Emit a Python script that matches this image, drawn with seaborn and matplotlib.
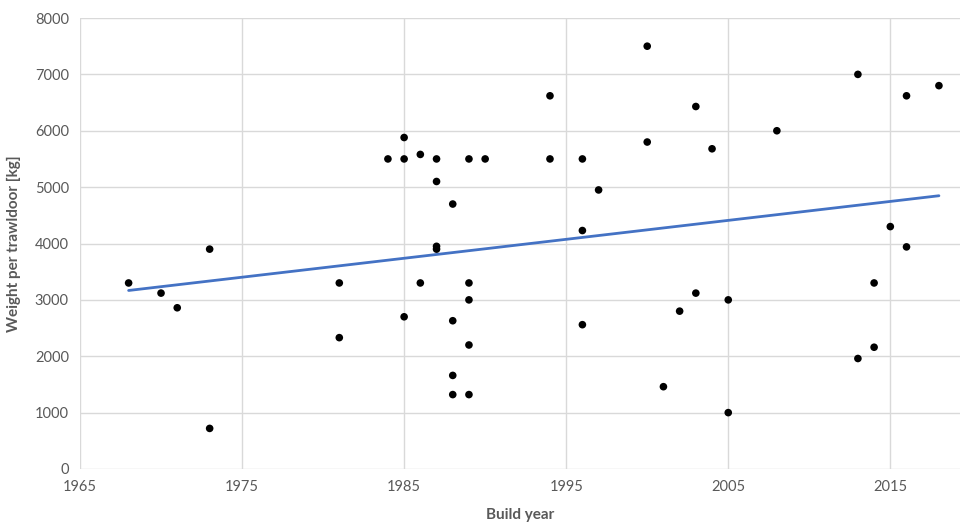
import matplotlib
matplotlib.use("Agg")
import matplotlib.pyplot as plt
import seaborn as sns
import pandas as pd
import numpy as np

build_year = [1968, 1970, 1971, 1973, 1973, 1981, 1981,
              1984, 1985, 1985, 1985, 1986, 1986, 1987, 1987, 1987, 1987,
              1988, 1988, 1988, 1988, 1989, 1989, 1989, 1989, 1989, 1990,
              1994, 1994, 1996, 1996, 1996, 1997, 2000, 2000, 2001, 2002,
              2003, 2003, 2004, 2005, 2005, 2008,
              2013, 2013, 2014, 2014, 2015, 2016, 2016, 2018]
weight_kg = [3300, 3120, 2860, 3900, 720, 3300, 2330,
             5500, 5880, 5500, 2700, 5580, 3300, 5500, 5100, 3950, 3900,
             4700, 2630, 1660, 1320, 5500, 3300, 3000, 2200, 1320, 5500,
             6620, 5500, 5500, 4230, 2560, 4950, 7500, 5800, 1460, 2800,
             6430, 3120, 5680, 3000, 1000, 6000,
             7000, 1960, 3300, 2160, 4300, 6620, 3940, 6800]

x_ticks = [1965, 1975, 1985, 1995, 2005, 2015]
y_ticks = [0, 1000, 2000, 3000, 4000, 5000, 6000, 7000, 8000]

df = pd.DataFrame({"Build year": build_year, "Weight": weight_kg})

sns.set_theme(style="white")
plt.rcParams['font.family'] = ['Lato', 'DejaVu Sans']

fig = plt.figure(figsize=(9.6, 5.24), dpi=100)
ax = fig.add_axes([80/960, 55/524, 880/960, 451/524])

sns.scatterplot(data=df, x="Build year", y="Weight", color="black",
                s=30, edgecolor="none", ax=ax, zorder=3)
sns.regplot(data=df, x="Build year", y="Weight", scatter=False, ci=None,
            truncate=True, color="#4472C4", line_kws={"lw": 2}, ax=ax)

ax.set_xlim(1965, 2019.3)
ax.set_ylim(0, 8000)
ax.set_xticks(x_ticks)
ax.set_yticks(y_ticks)
ax.grid(True, color="#D9D9D9", lw=1)
ax.set_axisbelow(True)
for s in ax.spines.values():
    s.set_visible(False)
ax.tick_params(axis="both", length=0, labelsize=10.5, colors="#595959", pad=8)
ax.set_xlabel("Build year", fontsize=11, fontweight="bold", color="#595959", labelpad=10)
ax.set_ylabel("Weight per trawldoor [kg]", fontsize=11, fontweight="bold", color="#595959", labelpad=10)

fig.savefig("out.png", dpi=100)
